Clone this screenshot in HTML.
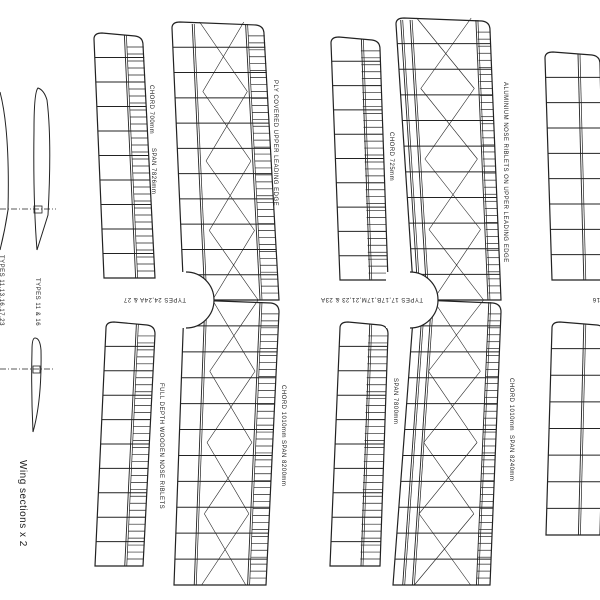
<!DOCTYPE html>
<html><head><meta charset="utf-8"><style>
html,body{margin:0;padding:0;background:#fff;width:600px;height:600px;overflow:hidden}
svg{display:block}
text{font-family:"Liberation Sans",sans-serif;font-size:6px;fill:#222;letter-spacing:0.5px}
</style></head><body>
<svg id="s" width="600" height="600" viewBox="0 0 600 600" xmlns="http://www.w3.org/2000/svg" stroke="#222" fill="none" stroke-width="1">
<g id="g"></g>
<path d="M0,92 Q10,130 8,210 Q5,230 0,250" stroke-width="1"/>
<path d="M38,88 Q44,90 47,100 Q52,140 48,215 L37,250 Q33,200 34,130 Q34,92 38,88Z"/>
<line x1="0" y1="209" x2="56" y2="209" stroke-dasharray="6,2,1,2" stroke-width="0.7"/>
<rect x="34" y="206" width="8" height="7" stroke-width="0.8"/>
<path d="M35,338 Q40,338 41,350 Q42,400 33,432 Q31,390 32,350 Q32,338 35,338Z"/>
<line x1="0" y1="369" x2="55" y2="369" stroke-dasharray="6,2,1,2" stroke-width="0.7"/>
<rect x="33" y="366" width="7" height="7" stroke-width="0.8"/>
<g stroke="none">
<text transform="translate(150,85) rotate(90)">CHORD 700mm</text>
<text transform="translate(152,148) rotate(90)">SPAN 7826mm</text>
<text transform="translate(274,80) rotate(90)">PLY COVERED UPPER LEADING EDGE</text>
<text transform="translate(390,132) rotate(90)">CHORD 725mm</text>
<text transform="translate(504,82) rotate(90)">ALUMINIUM NOSE RIBLETS ON UPPER LEADING EDGE</text>
<text transform="translate(186,300) rotate(180)" dy="2">TYPES 24,24A &amp; 27</text>
<text transform="translate(423,300) rotate(180)" dy="2">TYPES 17,17B,17M,21,23 &amp; 23A</text>
<text transform="translate(600,300) rotate(180)" dy="2">16</text>
<text transform="translate(36,278) rotate(90)">TYPES 11 &amp; 16</text>
<text transform="translate(0,255) rotate(90)">TYPES 11,13,16,17,23</text>
<text transform="translate(160,383) rotate(90)">FULL DEPTH WOODEN NOSE RIBLETS</text>
<text transform="translate(282,385) rotate(90)">CHORD 1010mm</text>
<text transform="translate(282,440) rotate(90)">SPAN 8200mm</text>
<text transform="translate(394,378) rotate(90)">SPAN 7800mm</text>
<text transform="translate(510,378) rotate(90)">CHORD 1010mm</text>
<text transform="translate(510,435) rotate(90)">SPAN 8240mm</text>
<text transform="translate(20,460) rotate(90)" style="font-size:10px;letter-spacing:0.5px">Wing sections x 2</text>
</g>
</svg>
<script>
var g=document.getElementById('g'),NS='http://www.w3.org/2000/svg';
function L(x1,y1,x2,y2,w){var l=document.createElementNS(NS,'line');l.setAttribute('x1',x1);l.setAttribute('y1',y1);l.setAttribute('x2',x2);l.setAttribute('y2',y2);if(w)l.setAttribute('stroke-width',w);g.appendChild(l);}
function P(d,w){var p=document.createElementNS(NS,'path');p.setAttribute('d',d);if(w)p.setAttribute('stroke-width',w);g.appendChild(p);}
function lerp(a,b,t){return a+(b-a)*t}
function wing(y0,y1,l0,l1,r0,r1,n,opt){
 P('M'+(l0)+','+(y0+6)+' Q'+l0+','+y0+' '+(l0+8)+','+y0+' L'+(r0-8)+','+(y0+3)+' Q'+r0+','+(y0+4)+' '+r0+','+(y0+12)+' L'+r1+','+y1+' L'+l1+','+y1+' Z',1.2);
 for(var i=1;i<n;i++){var t=i/n,y=lerp(y0,y1,t),a=lerp(l0,l1,t),b=lerp(r0,r1,t);L(a,y,b,y,1);}
 if(opt.spar){for(var k=0;k<opt.spar.length;k++){var s=opt.spar[k];L(lerp(l0,r0,s),y0+2,lerp(l1,r1,s),y1,0.9);L(lerp(l0,r0,s)+2,y0+2,lerp(l1,r1,s)+2,y1,0.7);}}
 if(opt.lad){var s=opt.lad,m=Math.round((y1-y0)/7);for(var j=2;j<m;j++){var t=j/m,y=lerp(y0,y1,t),a=lerp(l0,r0,s),b=lerp(l1,r1,s),x=lerp(a,b,t),xr=lerp(r0,r1,t);L(x,y,xr,y,0.7);}}
 if(opt.x){var s1=opt.x[0],s2=opt.x[1],seg=opt.x[2];for(var j=0;j<seg;j++){var ta=j/seg,tb=(j+1)/seg,ya=lerp(y0,y1,ta),yb=lerp(y0,y1,tb);var xa1=lerp(lerp(l0,r0,s1),lerp(l1,r1,s1),ta),xb1=lerp(lerp(l0,r0,s1),lerp(l1,r1,s1),tb),xa2=lerp(lerp(l0,r0,s2),lerp(l1,r1,s2),ta),xb2=lerp(lerp(l0,r0,s2),lerp(l1,r1,s2),tb);L(xa1,ya,xb2,yb,0.6);L(xa2,ya,xb1,yb,0.6);}}
}
wing(33,278,94,104,143,155,10,{spar:[0.62],lad:0.66});
wing(322,566,106,95,155,143,10,{spar:[0.62],lad:0.66});
wing(37,280,331,340,380,388,10,{spar:[0.62],lad:0.6});
wing(322,566,340,330,388,380,10,{spar:[0.62],lad:0.6});
wing(52,280,545,552,600,605,9,{spar:[0.6]});
wing(322,535,552,546,605,600,8,{spar:[0.6]});
wing(22,300,172,184,264,279,11,{spar:[0.22,0.8],lad:0.82,x:[0.3,0.78,4]});
wing(300,585,184,174,279,266,11,{spar:[0.22,0.8],lad:0.82,x:[0.3,0.78,4]});
wing(18,300,396,414,490,501,11,{spar:[0.05,0.15,0.85],lad:0.86,x:[0.22,0.8,4]});
wing(300,585,414,393,501,490,11,{spar:[0.1,0.2,0.86],lad:0.86,x:[0.22,0.8,4]});
var c=document.createElementNS(NS,'path');c.setAttribute('d','M186,272 A28,28 0 0 1 186,328 L165,328 L165,272Z');c.setAttribute('fill','#fff');c.setAttribute('stroke','none');g.appendChild(c);
P('M186,272 A28,28 0 0 1 186,328',1.2);
var c2=c.cloneNode();c2.setAttribute('d','M410,272 A27,27 0 0 1 410,328 L386,328 L386,272Z');g.appendChild(c2);
P('M410,272 A27,27 0 0 1 410,328',1.2);
</script>
</body></html>
